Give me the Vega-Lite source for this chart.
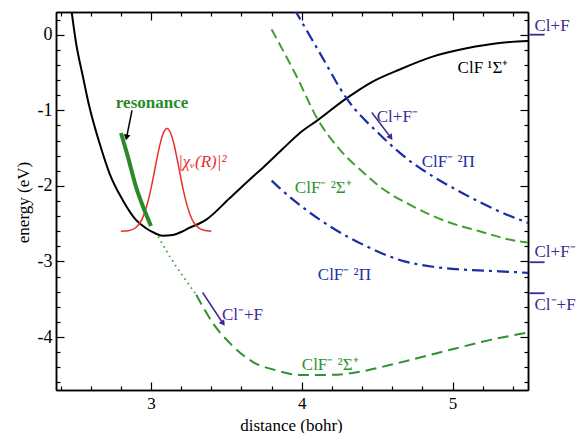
{
 "$schema": "https://vega.github.io/schema/vega-lite/v6.json",
 "width": 472, "height": 378,
 "autosize": {"type": "none"},
 "padding": {"left": 56, "top": 12, "right": 49, "bottom": 43},
 "background": "white",
 "config": {
  "view": {"stroke": null},
  "font": "Liberation Serif",
  "axis": {"grid": false, "domainColor": "black", "domainWidth": 1.5, "tickColor": "black", "tickWidth": 1.2,
   "labelFont": "Liberation Serif", "labelFontSize": 18, "labelColor": "black",
   "titleFont": "Liberation Serif", "titleFontSize": 17, "titleFontWeight": "normal", "titleColor": "black"}
 },
 "datasets": {
  "curves": [
   {"s": "X", "x": 2.47, "y": 0.36}, {"s": "X", "x": 2.503, "y": -0.11}, {"s": "X", "x": 2.548, "y": -0.55},
   {"s": "X", "x": 2.591, "y": -0.95}, {"s": "X", "x": 2.658, "y": -1.43}, {"s": "X", "x": 2.724, "y": -1.83},
   {"s": "X", "x": 2.813, "y": -2.19}, {"s": "X", "x": 2.9, "y": -2.45}, {"s": "X", "x": 2.967, "y": -2.56},
   {"s": "X", "x": 3.02, "y": -2.62}, {"s": "X", "x": 3.077, "y": -2.66}, {"s": "X", "x": 3.144, "y": -2.65},
   {"s": "X", "x": 3.2, "y": -2.61}, {"s": "X", "x": 3.25, "y": -2.56}, {"s": "X", "x": 3.364, "y": -2.45},
   {"s": "X", "x": 3.523, "y": -2.16}, {"s": "X", "x": 3.675, "y": -1.88}, {"s": "X", "x": 3.742, "y": -1.76},
   {"s": "X", "x": 3.874, "y": -1.51}, {"s": "X", "x": 3.987, "y": -1.3}, {"s": "X", "x": 4.106, "y": -1.13},
   {"s": "X", "x": 4.298, "y": -0.84}, {"s": "X", "x": 4.47, "y": -0.62}, {"s": "X", "x": 4.649, "y": -0.46},
   {"s": "X", "x": 4.868, "y": -0.29}, {"s": "X", "x": 5.093, "y": -0.18}, {"s": "X", "x": 5.311, "y": -0.11},
   {"s": "X", "x": 5.5, "y": -0.085},
   {"s": "chi", "x": 2.8, "y": -2.599}, {"s": "chi", "x": 2.85, "y": -2.592}, {"s": "chi", "x": 2.9, "y": -2.551},
   {"s": "chi", "x": 2.95, "y": -2.397}, {"s": "chi", "x": 2.98, "y": -2.207}, {"s": "chi", "x": 3.0, "y": -2.034},
   {"s": "chi", "x": 3.03, "y": -1.734}, {"s": "chi", "x": 3.06, "y": -1.447}, {"s": "chi", "x": 3.08, "y": -1.31},
   {"s": "chi", "x": 3.106, "y": -1.24}, {"s": "chi", "x": 3.13, "y": -1.3}, {"s": "chi", "x": 3.15, "y": -1.43},
   {"s": "chi", "x": 3.18, "y": -1.713}, {"s": "chi", "x": 3.21, "y": -2.016}, {"s": "chi", "x": 3.24, "y": -2.265},
   {"s": "chi", "x": 3.27, "y": -2.434}, {"s": "chi", "x": 3.3, "y": -2.528}, {"s": "chi", "x": 3.35, "y": -2.587},
   {"s": "chi", "x": 3.4, "y": -2.6},
   {"s": "res", "x": 2.801, "y": -1.3}, {"s": "res", "x": 2.846, "y": -1.61}, {"s": "res", "x": 2.9, "y": -2.01},
   {"s": "res", "x": 2.956, "y": -2.32}, {"s": "res", "x": 3.0, "y": -2.53},
   {"s": "dot", "x": 3.048, "y": -2.67}, {"s": "dot", "x": 3.126, "y": -2.94}, {"s": "dot", "x": 3.214, "y": -3.2},
   {"s": "dot", "x": 3.3, "y": -3.44},
   {"s": "Slow", "x": 3.3, "y": -3.44}, {"s": "Slow", "x": 3.412, "y": -3.82}, {"s": "Slow", "x": 3.523, "y": -4.08},
   {"s": "Slow", "x": 3.677, "y": -4.33}, {"s": "Slow", "x": 3.832, "y": -4.44}, {"s": "Slow", "x": 3.987, "y": -4.5},
   {"s": "Slow", "x": 4.185, "y": -4.5}, {"s": "Slow", "x": 4.384, "y": -4.46}, {"s": "Slow", "x": 4.583, "y": -4.37},
   {"s": "Slow", "x": 4.803, "y": -4.26}, {"s": "Slow", "x": 5.02, "y": -4.15}, {"s": "Slow", "x": 5.245, "y": -4.04},
   {"s": "Slow", "x": 5.5, "y": -3.94},
   {"s": "Sup", "x": 3.8, "y": 0.07}, {"s": "Sup", "x": 3.965, "y": -0.55}, {"s": "Sup", "x": 4.108, "y": -1.13},
   {"s": "Sup", "x": 4.252, "y": -1.52}, {"s": "Sup", "x": 4.406, "y": -1.82}, {"s": "Sup", "x": 4.517, "y": -2.01},
   {"s": "Sup", "x": 4.737, "y": -2.27}, {"s": "Sup", "x": 4.958, "y": -2.47}, {"s": "Sup", "x": 5.179, "y": -2.6},
   {"s": "Sup", "x": 5.4, "y": -2.72}, {"s": "Sup", "x": 5.5, "y": -2.75},
   {"s": "Pup", "x": 3.95, "y": 0.34}, {"s": "Pup", "x": 4.119, "y": -0.24}, {"s": "Pup", "x": 4.296, "y": -0.84},
   {"s": "Pup", "x": 4.517, "y": -1.32}, {"s": "Pup", "x": 4.737, "y": -1.7}, {"s": "Pup", "x": 4.803, "y": -1.79},
   {"s": "Pup", "x": 5.07, "y": -2.1}, {"s": "Pup", "x": 5.29, "y": -2.32}, {"s": "Pup", "x": 5.5, "y": -2.49},
   {"s": "Plow", "x": 3.8, "y": -1.93}, {"s": "Plow", "x": 3.854, "y": -2.03}, {"s": "Plow", "x": 4.03, "y": -2.32},
   {"s": "Plow", "x": 4.207, "y": -2.56}, {"s": "Plow", "x": 4.43, "y": -2.8}, {"s": "Plow", "x": 4.649, "y": -2.98},
   {"s": "Plow", "x": 4.87, "y": -3.07}, {"s": "Plow", "x": 5.09, "y": -3.11}, {"s": "Plow", "x": 5.31, "y": -3.13},
   {"s": "Plow", "x": 5.5, "y": -3.15}
  ],
  "labels": [
   {"t": "ClF ¹Σ⁺", "x": 5.033, "y": -0.44, "g": "black"},
   {"t": "Cl+F⁻", "x": 4.497, "y": -1.086, "g": "purple"},
   {"t": "ClF⁻ ²Π", "x": 4.795, "y": -1.68, "g": "blue"},
   {"t": "ClF⁻ ²Σ⁺", "x": 3.954, "y": -2.03, "g": "green"},
   {"t": "ClF⁻ ²Π", "x": 4.106, "y": -3.18, "g": "blue"},
   {"t": "Cl⁻+F", "x": 3.47, "y": -3.71, "g": "purple"},
   {"t": "ClF⁻ ²Σ⁺", "x": 4.0, "y": -4.37, "g": "green"},
   {"t": "Cl+F", "x": 5.543, "y": 0.11, "g": "purple"},
   {"t": "Cl+F⁻", "x": 5.543, "y": -2.87, "g": "purple"},
   {"t": "Cl⁻+F", "x": 5.543, "y": -3.58, "g": "purple"}
  ],
  "arrows": [
   {"x": 2.874, "y": -1.0, "x2": 2.838, "y2": -1.36, "g": "black"},
   {"x": 4.464, "y": -1.03, "x2": 4.59, "y2": -1.36, "g": "purple"},
   {"x": 3.342, "y": -3.41, "x2": 3.478, "y2": -3.82, "g": "purple"}
  ],
  "limits": [
   {"x": 5.51, "x2": 5.61, "y": 0.0},
   {"x": 5.51, "x2": 5.61, "y": -3.01},
   {"x": 5.51, "x2": 5.61, "y": -3.42}
  ]
 },
 "resolve": {"axis": {"x": "independent", "y": "independent"}},
 "layer": [
  {
   "data": {"name": "curves"},
   "transform": [{"filter": "datum.s === 'X'"}],
   "mark": {"type": "line", "color": "black", "strokeWidth": 2, "clip": true, "interpolate": "monotone"},
   "encoding": {
    "x": {"field": "x", "type": "quantitative", "scale": {"domain": [2.37, 5.5], "nice": false, "zero": false},
     "axis": {"orient": "bottom", "title": "distance (bohr)", "titleX": 235, "titleY": 35, "titleBaseline": "middle",
      "values": [3, 4, 5], "format": "d", "tickSize": -8, "labelPadding": 13, "labelFontSize": 17, "labelFlush": false}},
    "y": {"field": "y", "type": "quantitative", "scale": {"domain": [-4.7, 0.3], "nice": false, "zero": false},
     "axis": {"orient": "left", "title": "energy (eV)", "titleX": -33, "titleY": 190, "titleBaseline": "middle",
      "values": [-4, -3, -2, -1, 0],
      "labelExpr": "toString(round(datum.value))",
      "tickSize": -8, "labelPadding": 12, "labelFlush": false}}
   }
  },
  {
   "data": {"name": "curves"},
   "transform": [{"filter": "datum.s === 'chi'"}],
   "mark": {"type": "line", "color": "#e8302a", "strokeWidth": 1.5, "clip": true, "interpolate": "monotone"},
   "encoding": {
    "x": {"field": "x", "type": "quantitative",
     "axis": {"orient": "top", "title": null, "labels": false, "values": [3, 4, 5], "tickSize": -8}},
    "y": {"field": "y", "type": "quantitative",
     "axis": {"orient": "right", "title": null, "labels": false, "values": [-4, -3, -2, -1, 0], "tickSize": -8}}
   }
  },
  {
   "data": {"name": "curves"},
   "transform": [{"filter": "datum.s === 'res'"}],
   "mark": {"type": "line", "color": "#2a8a2a", "strokeWidth": 4, "clip": true, "interpolate": "monotone"},
   "encoding": {
    "x": {"field": "x", "type": "quantitative",
     "axis": {"orient": "bottom", "title": null, "labels": false, "tickSize": -4,
      "values": [2.4, 2.6, 2.8, 3.2, 3.4, 3.6, 3.8, 4.2, 4.4, 4.6, 4.8, 5.2, 5.4]}},
    "y": {"field": "y", "type": "quantitative",
     "axis": {"orient": "left", "title": null, "labels": false, "tickSize": -4,
      "values": [-4.6, -4.4, -4.2, -3.8, -3.6, -3.4, -3.2, -2.8, -2.6, -2.4, -2.2, -1.8, -1.6, -1.4, -1.2, -0.8, -0.6, -0.4, -0.2, 0.2]}}
   }
  },
  {
   "data": {"name": "curves"},
   "transform": [{"filter": "datum.s === 'Slow'"}],
   "mark": {"type": "line", "color": "#2f912f", "strokeWidth": 2, "strokeDash": [11, 6], "clip": true, "interpolate": "monotone"},
   "encoding": {
    "x": {"field": "x", "type": "quantitative",
     "axis": {"orient": "top", "title": null, "labels": false, "tickSize": -4,
      "values": [2.4, 2.6, 2.8, 3.2, 3.4, 3.6, 3.8, 4.2, 4.4, 4.6, 4.8, 5.2, 5.4]}},
    "y": {"field": "y", "type": "quantitative",
     "axis": {"orient": "right", "title": null, "labels": false, "tickSize": -4,
      "values": [-4.6, -4.4, -4.2, -3.8, -3.6, -3.4, -3.2, -2.8, -2.6, -2.4, -2.2, -1.8, -1.6, -1.4, -1.2, -0.8, -0.6, -0.4, -0.2, 0.2]}}
   }
  },
  {
   "data": {"name": "curves"},
   "transform": [{"filter": "datum.s === 'dot'"}],
   "mark": {"type": "line", "color": "#3a9a30", "strokeWidth": 1.8, "strokeDash": [1.5, 4], "clip": true, "interpolate": "monotone"},
   "encoding": {
    "x": {"field": "x", "type": "quantitative", "axis": null},
    "y": {"field": "y", "type": "quantitative", "axis": null}
   }
  },
  {
   "data": {"name": "curves"},
   "transform": [{"filter": "datum.s === 'Sup'"}],
   "mark": {"type": "line", "color": "#3f9f2f", "strokeWidth": 2, "strokeDash": [10, 5], "clip": true, "interpolate": "monotone"},
   "encoding": {
    "x": {"field": "x", "type": "quantitative", "axis": null},
    "y": {"field": "y", "type": "quantitative", "axis": null}
   }
  },
  {
   "data": {"name": "curves"},
   "transform": [{"filter": "datum.s === 'Pup' || datum.s === 'Plow'"}],
   "mark": {"type": "line", "color": "#1a2ea6", "strokeWidth": 2.2, "strokeDash": [12, 5, 3, 5], "clip": true, "interpolate": "monotone"},
   "encoding": {
    "x": {"field": "x", "type": "quantitative", "axis": null},
    "y": {"field": "y", "type": "quantitative", "axis": null},
    "detail": {"field": "s"}
   }
  },
  {
   "data": {"name": "limits"},
   "mark": {"type": "rule", "color": "#3d2a94", "strokeWidth": 1.8},
   "encoding": {
    "x": {"field": "x", "type": "quantitative", "axis": null},
    "x2": {"field": "x2"},
    "y": {"field": "y", "type": "quantitative", "axis": null}
   }
  },
  {
   "data": {"name": "arrows"},
   "mark": {"type": "rule", "strokeWidth": 1.5},
   "encoding": {
    "x": {"field": "x", "type": "quantitative", "axis": null},
    "y": {"field": "y", "type": "quantitative", "axis": null},
    "x2": {"field": "x2"}, "y2": {"field": "y2"},
    "color": {"field": "g", "type": "nominal", "scale": {"domain": ["black", "purple", "blue", "green"], "range": ["#000000", "#3d2a94", "#1a2ea6", "#2f912f"]}, "legend": null}
   }
  },
  {
   "data": {"name": "arrows"},
   "transform": [{"filter": "datum.g === 'black'"}],
   "mark": {"type": "point", "shape": "triangle-down", "filled": true, "color": "#000000", "size": 45, "angle": 11, "opacity": 1},
   "encoding": {
    "x": {"field": "x2", "type": "quantitative", "axis": null},
    "y": {"field": "y2", "type": "quantitative", "axis": null}
   }
  },
  {
   "data": {"name": "arrows"},
   "transform": [{"filter": "datum.g === 'purple'"}],
   "mark": {"type": "point", "shape": "triangle-down", "filled": true, "color": "#3d2a94", "size": 45, "angle": 325, "opacity": 1},
   "encoding": {
    "x": {"field": "x2", "type": "quantitative", "axis": null},
    "y": {"field": "y2", "type": "quantitative", "axis": null}
   }
  },
  {
   "data": {"name": "labels"},
   "mark": {"type": "text", "align": "left", "baseline": "middle", "fontSize": 17, "font": "Liberation Serif"},
   "encoding": {
    "x": {"field": "x", "type": "quantitative", "axis": null},
    "y": {"field": "y", "type": "quantitative", "axis": null},
    "text": {"field": "t"},
    "color": {"field": "g", "type": "nominal", "scale": {"domain": ["black", "purple", "blue", "green"], "range": ["#000000", "#3d2a94", "#1a2ea6", "#2f912f"]}, "legend": null}
   }
  },
  {
   "data": {"values": [{"t": "resonance", "x": 3.007, "y": -0.9}]},
   "mark": {"type": "text", "align": "center", "baseline": "middle", "fontSize": 17, "fontWeight": "bold", "font": "Liberation Serif", "color": "#2a8a2a"},
   "encoding": {
    "x": {"field": "x", "type": "quantitative", "axis": null},
    "y": {"field": "y", "type": "quantitative", "axis": null},
    "text": {"field": "t"}
   }
  },
  {
   "data": {"values": [{"t": "|χᵥ(R)|²", "x": 3.18, "y": -1.68}]},
   "mark": {"type": "text", "align": "left", "baseline": "middle", "fontSize": 17, "fontStyle": "italic", "font": "Liberation Serif", "color": "#e8302a"},
   "encoding": {
    "x": {"field": "x", "type": "quantitative", "axis": null},
    "y": {"field": "y", "type": "quantitative", "axis": null},
    "text": {"field": "t"}
   }
  }
 ]
}
